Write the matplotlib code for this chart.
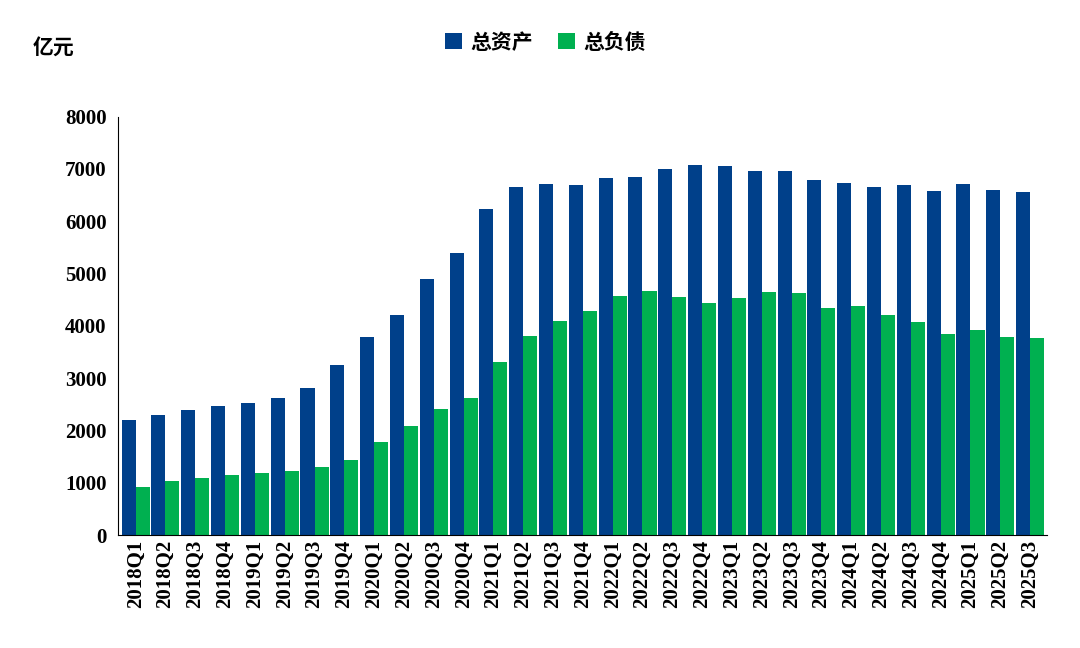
import matplotlib
matplotlib.use("Agg")
import matplotlib.pyplot as plt
import numpy as np

quarters = [f"{y}Q{q}" for y in range(2018, 2026) for q in range(1, 5)][:31]
assets = [2200,2300,2390,2470,2530,2620,2810,3250,3790,4210,4900,5400,6240,6660,6720,6700,
          6830,6850,6990,7080,7060,6970,6970,6780,6740,6660,6700,6580,6720,6600,6560]
liabs = [920,1030,1090,1150,1190,1220,1300,1440,1780,2090,2410,2620,3310,3810,4100,4290,
         4570,4670,4560,4440,4540,4650,4630,4340,4380,4210,4080,3850,3920,3790,3770]

plt.rcParams['font.family'] = ['Liberation Serif', 'Noto Sans CJK SC']
fig = plt.figure(figsize=(10.8, 6.48), dpi=100)
ax = fig.add_axes([0.109, 0.174, 0.86, 0.646])
x = np.arange(len(quarters))
w = 0.47
ax.bar(x - w/2, assets, w, color='#00408A', label='总资产')
ax.bar(x + w/2, liabs, w, color='#00B050', label='总负债')
ax.set_xlim(-0.6, len(quarters) - 0.45)
ax.set_ylim(0, 8000)
ax.set_yticks(range(0, 8001, 1000))
ax.set_xticks(x)
ax.set_xticklabels(quarters, rotation=90, fontsize=15, fontweight='bold')
for t in ax.get_yticklabels():
    t.set_fontsize(15); t.set_fontweight('bold')
for s in ['top', 'right']:
    ax.spines[s].set_visible(False)
ax.tick_params(axis='both', length=0)
ax.tick_params(axis='y', pad=8)
fig.text(0.03, 0.915, '亿元', fontsize=15, fontweight='bold', family=['Noto Sans CJK SC'])
h, l = ax.get_legend_handles_labels()
fig.legend(h, l, loc='center', bbox_to_anchor=(0.505, 0.935), ncol=2, frameon=False,
           prop={'family': 'Noto Sans CJK SC', 'weight': 'bold', 'size': 15},
           handlelength=0.8, handleheight=0.8, columnspacing=1.2, handletextpad=0.4)
fig.savefig('out.png')
